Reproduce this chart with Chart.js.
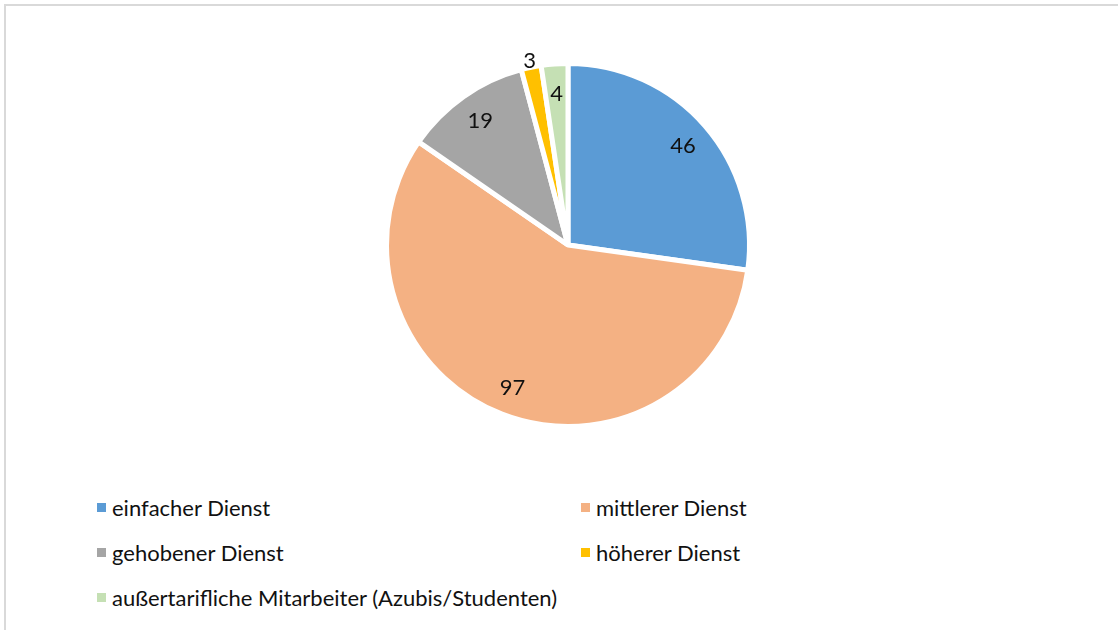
<!DOCTYPE html>
<html>
<head>
<meta charset="utf-8">
<script src="https://cdn.jsdelivr.net/npm/chart.js@4"></script>
<style>
  html, body { margin: 0; padding: 0; background: #fff; overflow: hidden; }
  body { width: 1118px; height: 630px; position: relative; font-family: Lato, 'Open Sans', sans-serif; }
  .frame { position: absolute; left: 4px; top: 4px; width: 1130px; height: 640px; border: 2px solid #d9d9d9; box-sizing: border-box; }
  .wrap { position: absolute; left: 0; top: 0; width: 1118px; height: 460px; }
  .legend { position: absolute; left: 97px; top: 492px; width: 980px; }
  .legend .item { position: absolute; display: flex; align-items: center; font-size: 22px; color: #111; white-space: nowrap; height: 30px; }
  .legend .sw { width: 9px; height: 9px; margin-right: 6px; }
</style>
</head>
<body>
<div class="frame"></div>
<div class="wrap"><canvas id="pie"></canvas></div>
<div class="legend" id="legend"></div>
<script>
var LABELS = ['einfacher Dienst', 'mittlerer Dienst', 'gehobener Dienst', 'höherer Dienst', 'außertarifliche Mitarbeiter (Azubis/Studenten)'];
var VALUES = [46, 97, 19, 3, 4];
var COLORS = ['#5B9BD5', '#F4B183', '#A5A5A5', '#FFC000', '#C5E0B4'];

// value labels, like Excel's "best fit": inside, small slices pushed outside
var valueLabels = {
    id: 'valueLabels',
    afterDatasetsDraw: function (chart) {
        var ctx = chart.ctx;
        var meta = chart.getDatasetMeta(0);
        var total = VALUES.reduce(function (a, b) { return a + b; }, 0);
        ctx.save();
        ctx.font = '22px Lato, "Open Sans", sans-serif';
        ctx.fillStyle = '#111';
        ctx.textAlign = 'center';
        ctx.textBaseline = 'middle';
        meta.data.forEach(function (arc, i) {
            var p = arc.getProps(['x', 'y', 'startAngle', 'endAngle', 'outerRadius'], true);
            var mid = (p.startAngle + p.endAngle) / 2;
            var r = VALUES[i] / total < 0.02 ? p.outerRadius + 8 : p.outerRadius * 0.84;
            ctx.fillText(String(VALUES[i]), p.x + Math.cos(mid) * r, p.y + Math.sin(mid) * r + 1);
        });
        ctx.restore();
    }
};

new Chart(document.getElementById('pie'), {
    type: 'pie',
    data: {
        labels: LABELS,
        datasets: [{ data: VALUES, backgroundColor: COLORS, borderColor: '#fff', borderWidth: 5 }]
    },
    options: {
        responsive: true,
        maintainAspectRatio: false,
        animation: false,
        layout: { padding: { top: 61, bottom: 31, left: 18, right: 0 } },
        plugins: { legend: { display: false }, tooltip: { enabled: false } }
    },
    plugins: [valueLabels]
});

// two-column legend
var leg = document.getElementById('legend');
LABELS.forEach(function (l, i) {
    var d = document.createElement('div');
    d.className = 'item';
    d.style.left = (i % 2 ? 484 : 0) + 'px';
    d.style.top = (Math.floor(i / 2) * 45) + 'px';
    d.innerHTML = '<span class="sw" style="background:' + COLORS[i] + '"></span>' + l;
    leg.appendChild(d);
});
</script>
</body>
</html>
